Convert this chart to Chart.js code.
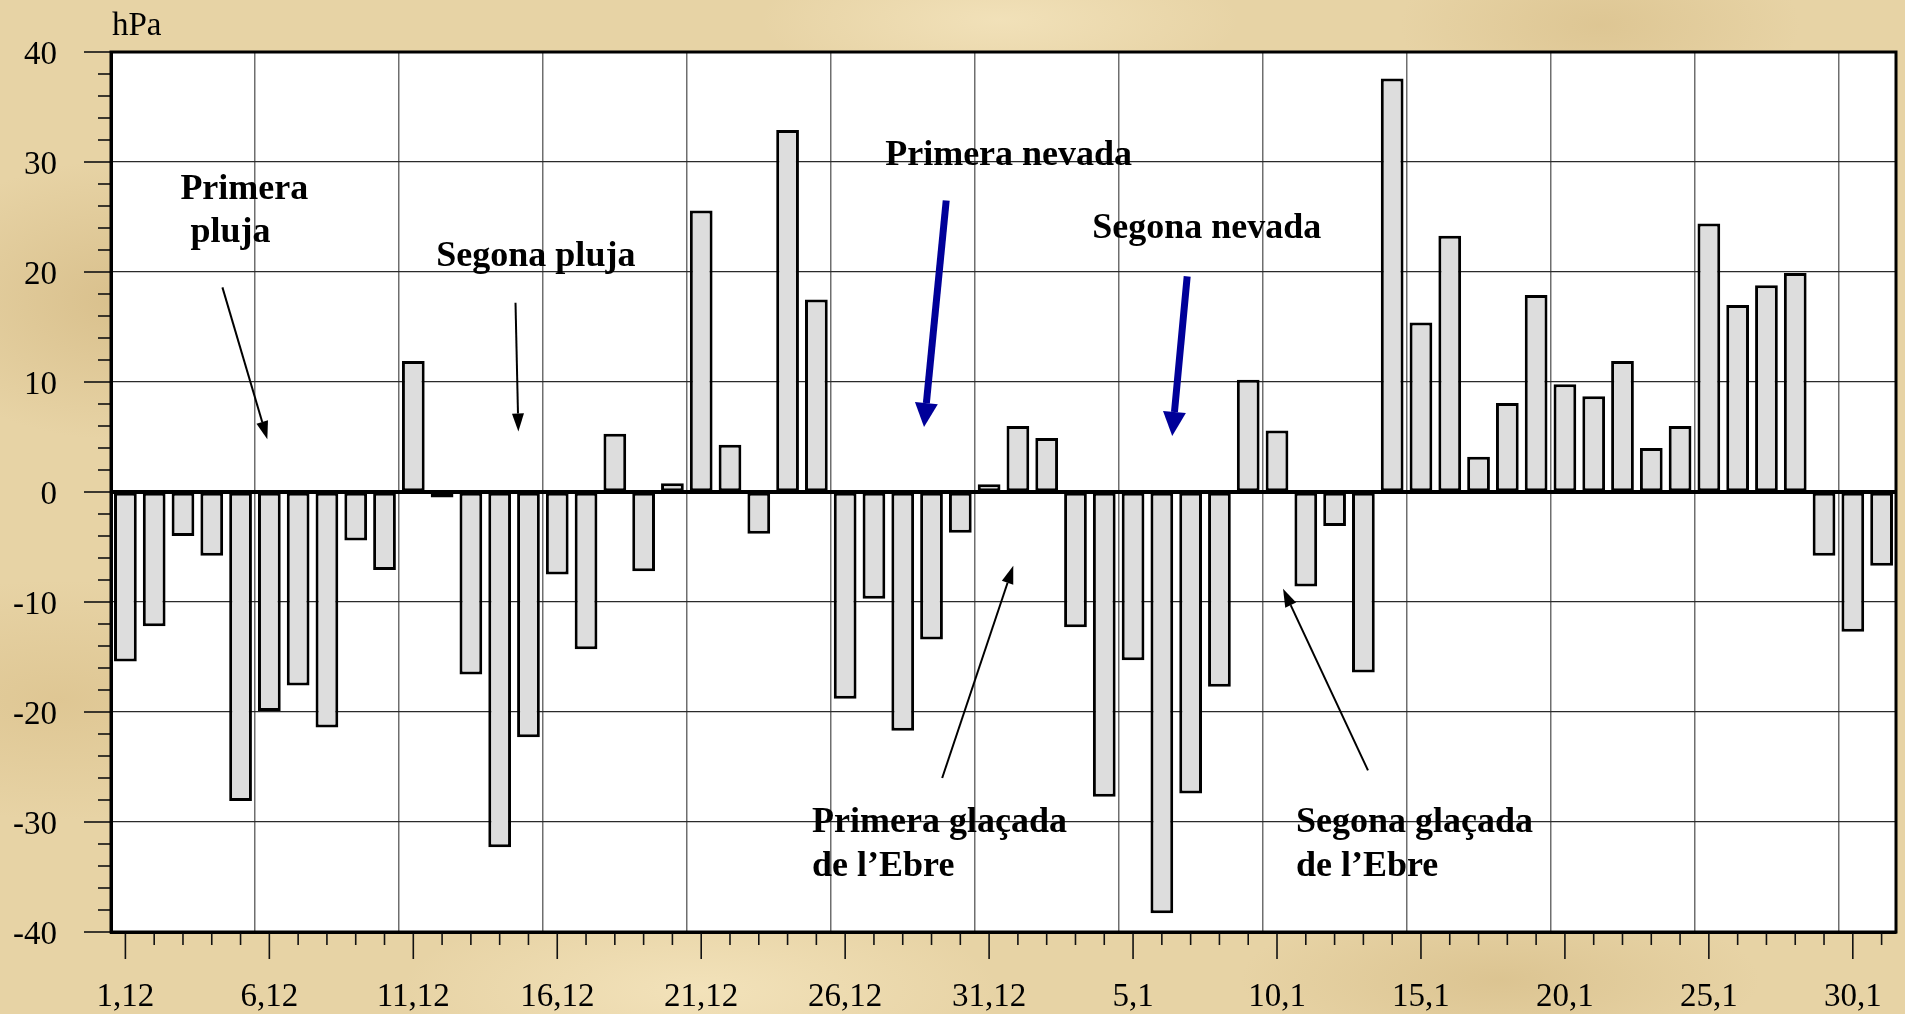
<!DOCTYPE html>
<html lang="ca">
<head>
<meta charset="utf-8">
<title>Diferència de pressió (hPa)</title>
<script src="https://cdn.jsdelivr.net/npm/chart.js@4/dist/chart.umd.min.js"></script>
<style>
    html, body {
        margin: 0;
        padding: 0;
    }
    body {
        width: 1905px;
        height: 1014px;
        overflow: hidden;
        background-color: #e7d3a5;
        background-image:
            radial-gradient(ellipse 220px 140px at 120px 300px, rgba(205, 176, 120, 0.55), transparent),
            radial-gradient(ellipse 260px 120px at 60px 700px, rgba(214, 186, 130, 0.5), transparent),
            radial-gradient(ellipse 300px 90px at 700px 990px, rgba(250, 236, 200, 0.6), transparent),
            radial-gradient(ellipse 260px 80px at 1500px 980px, rgba(206, 178, 122, 0.45), transparent),
            radial-gradient(ellipse 240px 70px at 1000px 20px, rgba(248, 234, 198, 0.6), transparent),
            radial-gradient(ellipse 200px 90px at 1600px 25px, rgba(210, 182, 126, 0.45), transparent);
    }
    #pressureChart {
        display: block;
    }
</style>
</head>
<body>
<canvas id="pressureChart" width="1905" height="1014"></canvas>
<script>
// days, Dec 1 -> Jan 31
const days = [
    '1,12', '2,12', '3,12', '4,12', '5,12', '6,12', '7,12', '8,12', '9,12', '10,12',
    '11,12', '12,12', '13,12', '14,12', '15,12', '16,12', '17,12', '18,12', '19,12', '20,12',
    '21,12', '22,12', '23,12', '24,12', '25,12', '26,12', '27,12', '28,12', '29,12', '30,12',
    '31,12', '1,1', '2,1', '3,1', '4,1', '5,1', '6,1', '7,1', '8,1', '9,1',
    '10,1', '11,1', '12,1', '13,1', '14,1', '15,1', '16,1', '17,1', '18,1', '19,1',
    '20,1', '21,1', '22,1', '23,1', '24,1', '25,1', '26,1', '27,1', '28,1', '29,1',
    '30,1', '31,1'
];

// pressure difference, hPa
const pressureDiff = [
    -15.4, -12.2, -4.0, -5.8, -28.1, -19.9, -17.6, -21.4, -4.4, -7.1,
    11.9, -0.5, -16.6, -32.3, -22.3, -7.5, -14.3, 5.3, -7.2, 0.8,
    25.6, 4.3, -3.8, 32.9, 17.5, -18.8, -9.7, -21.7, -13.4, -3.7,
    0.7, 6.0, 4.9, -12.3, -27.7, -15.3, -38.3, -27.4, -17.7, 10.2,
    5.6, -8.6, -3.1, -16.4, 37.6, 15.4, 23.3, 3.2, 8.1, 17.9,
    9.8, 8.7, 11.9, 4.0, 6.0, 24.4, 17.0, 18.8, 19.9, -5.8,
    -12.7, -6.7
];

const yMin = -40;
const yMax = 40;
const yStep = 10;
const unitLabel = 'hPa';

// notes anchored in chart units (category index, hPa)
const notes = [
    { text: 'Primera', x: 1.91, y: 27.5 },
    { text: 'pluja', x: 2.26, y: 23.6 },
    { text: 'Segona pluja', x: 10.80, y: 21.4 },
    { text: 'Primera nevada', x: 26.39, y: 30.6 },
    { text: 'Segona nevada', x: 33.58, y: 23.9 },
    { text: 'Primera glaçada', x: 23.85, y: -30.1 },
    { text: 'de l\u2019Ebre', x: 23.85, y: -34.1 },
    { text: 'Segona glaçada', x: 40.66, y: -30.1 },
    { text: 'de l\u2019Ebre', x: 40.66, y: -34.1 }
];

const pointers = [
    { kind: 'thin', from: [3.37, 18.6], to: [4.93, 4.8] },
    { kind: 'thin', from: [13.55, 17.2], to: [13.65, 5.5] },
    { kind: 'snow', from: [28.51, 26.5], to: [27.74, 5.9] },
    { kind: 'snow', from: [36.88, 19.6], to: [36.36, 5.1] },
    { kind: 'thin', from: [28.37, -26.0], to: [30.84, -6.7] },
    { kind: 'thin', from: [43.16, -25.3], to: [40.21, -8.8] }
];

const serif = "'Liberation Serif', 'Times New Roman', serif";

document.addEventListener('DOMContentLoaded', function() {
    initializePressureChart();
});

function drawArrow(ctx, x0, y0, x1, y1, style) {
    const ang = Math.atan2(y1 - y0, x1 - x0);
    const bx = x1 - Math.cos(ang) * style.headLen;
    const by = y1 - Math.sin(ang) * style.headLen;

    ctx.save();
    ctx.strokeStyle = style.color;
    ctx.fillStyle = style.color;
    ctx.lineWidth = style.width;
    ctx.beginPath();
    ctx.moveTo(x0, y0);
    ctx.lineTo(bx, by);
    ctx.stroke();

    ctx.beginPath();
    ctx.moveTo(x1, y1);
    ctx.lineTo(bx + Math.sin(ang) * style.headHalf, by - Math.cos(ang) * style.headHalf);
    ctx.lineTo(bx - Math.sin(ang) * style.headHalf, by + Math.cos(ang) * style.headHalf);
    ctx.closePath();
    ctx.fill();
    ctx.restore();
}

const arrowStyles = {
    thin: { color: '#000000', width: 2, headLen: 18, headHalf: 6 },
    snow: { color: '#000099', width: 7, headLen: 24, headHalf: 11.5 }
};

const plotFrame = {
    id: 'plotFrame',
    beforeDraw(chart) {
        const a = chart.chartArea;
        const ctx = chart.ctx;
        ctx.save();
        ctx.fillStyle = '#ffffff';
        ctx.fillRect(a.left, a.top, a.right - a.left, a.bottom - a.top);
        ctx.restore();
    },
    afterDatasetsDraw(chart) {
        const a = chart.chartArea;
        const ctx = chart.ctx;
        const y0 = chart.scales.y.getPixelForValue(0);
        ctx.save();
        ctx.strokeStyle = '#000';
        ctx.lineWidth = 4;
        ctx.beginPath();
        ctx.moveTo(a.left, y0);
        ctx.lineTo(a.right, y0);
        ctx.stroke();
        ctx.restore();
    },
    afterDraw(chart) {
        const a = chart.chartArea;
        const ctx = chart.ctx;
        const xs = chart.scales.x;
        const ys = chart.scales.y;

        ctx.save();

        // tick marks outside the plot
        ctx.strokeStyle = '#111';
        ctx.lineWidth = 1.6;
        for (let v = yMin; v <= yMax; v += 2) {
            const py = ys.getPixelForValue(v);
            const len = v % yStep === 0 ? 27 : 13;
            ctx.beginPath();
            ctx.moveTo(a.left - len, py);
            ctx.lineTo(a.left, py);
            ctx.stroke();
        }
        days.forEach(function(d, i) {
            const px = xs.getPixelForValue(i);
            const len = i % 5 === 0 ? 27 : 13;
            ctx.beginPath();
            ctx.moveTo(px, a.bottom);
            ctx.lineTo(px, a.bottom + len);
            ctx.stroke();
        });

        // frame
        ctx.strokeStyle = '#000';
        ctx.lineWidth = 3;
        ctx.strokeRect(a.left, a.top, a.right - a.left, a.bottom - a.top);

        // unit
        ctx.fillStyle = '#000';
        ctx.font = '33px ' + serif;
        ctx.textAlign = 'left';
        ctx.textBaseline = 'alphabetic';
        ctx.fillText(unitLabel, a.left + 1, a.top - 17);

        // notes
        ctx.font = 'bold 36px ' + serif;
        ctx.textBaseline = 'middle';
        notes.forEach(function(n) {
            ctx.fillText(n.text, xs.getPixelForValue(n.x), ys.getPixelForValue(n.y));
        });

        pointers.forEach(function(p) {
            drawArrow(ctx,
                xs.getPixelForValue(p.from[0]), ys.getPixelForValue(p.from[1]),
                xs.getPixelForValue(p.to[0]), ys.getPixelForValue(p.to[1]),
                arrowStyles[p.kind]);
        });

        ctx.restore();
    }
};

function initializePressureChart() {
    const ctx = document.getElementById('pressureChart').getContext('2d');
    const pressureChart = new Chart(ctx, {
        type: 'bar',
        data: {
            labels: days,
            datasets: [{
                label: 'hPa',
                data: pressureDiff,
                backgroundColor: '#dddddd',
                borderColor: '#000000',
                borderWidth: 3,
                borderSkipped: false,
                barPercentage: 0.79,
                categoryPercentage: 1.0
            }]
        },
        options: {
            responsive: false,
            animation: false,
            devicePixelRatio: 1,
            layout: {
                padding: { top: 52, right: 9, left: 0, bottom: 0 }
            },
            plugins: {
                legend: { display: false },
                tooltip: { enabled: false }
            },
            scales: {
                x: {
                    type: 'category',
                    afterFit: function(scale) {
                        // label padding would otherwise eat into the plot width
                        scale.height = 82;
                        scale.paddingLeft = 0;
                        scale.paddingRight = 0;
                    },
                    border: { display: true, color: '#000', width: 3 },
                    grid: {
                        offset: true,
                        drawTicks: false,
                        lineWidth: 1.5,
                        color: function(context) {
                            const i = context.index;
                            return (i % 5 === 0 && i > 0 && i < days.length) ? '#6e6e6e' : 'rgba(0,0,0,0)';
                        }
                    },
                    ticks: {
                        autoSkip: false,
                        maxRotation: 0,
                        minRotation: 0,
                        padding: 46,
                        color: '#000',
                        font: { family: serif, size: 33 },
                        callback: function(value, index) {
                            return index % 5 === 0 ? this.getLabelForValue(value) : '';
                        }
                    }
                },
                y: {
                    min: yMin,
                    max: yMax,
                    afterFit: function(scale) {
                        scale.width = 111;
                        scale.paddingTop = 0;
                        scale.paddingBottom = 0;
                    },
                    border: { display: true, color: '#000', width: 3 },
                    grid: {
                        drawTicks: false,
                        lineWidth: 1.3,
                        color: '#2a2a2a'
                    },
                    ticks: {
                        stepSize: yStep,
                        padding: 54,
                        labelOffset: 3,
                        color: '#000',
                        font: { family: serif, size: 33 }
                    }
                }
            }
        },
        plugins: [plotFrame]
    });
}
</script>
</body>
</html>
